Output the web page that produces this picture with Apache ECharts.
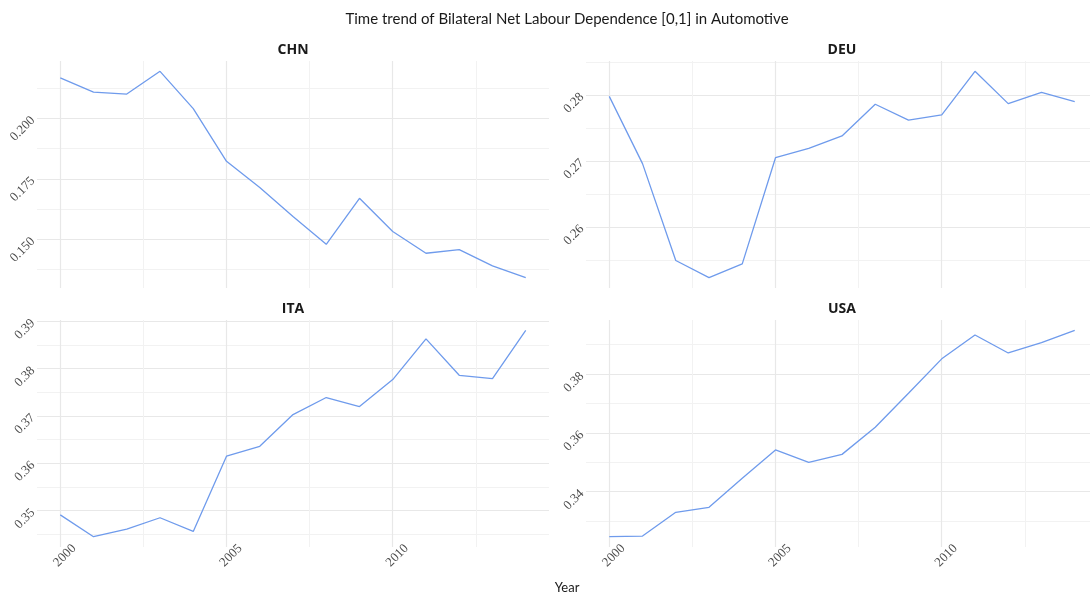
<html>
<head>
  <meta charset="utf-8">
  <title>Bilateral Net Labour Dependence</title>
  <script src="https://cdn.jsdelivr.net/npm/echarts@6/dist/echarts.min.js"></script>
  <style>
    html, body { margin: 0; width: 100%; height: 100%; background: #fff; overflow: hidden; }
    /* a bit wider than the window: the right panels run past the edge in the reference */
    #chart { width: 1100px; height: 596px; }
  </style>
</head>
<body>
  <div id="chart"></div>
  <script>
    // data
    var years = [2000, 2001, 2002, 2003, 2004, 2005, 2006, 2007, 2008, 2009, 2010, 2011, 2012, 2013, 2014];
    var chn = [0.2168, 0.2109, 0.2101, 0.2195, 0.2041, 0.1823, 0.1715, 0.1595, 0.1480, 0.1670, 0.1533, 0.1443, 0.1458, 0.1391, 0.1342];
    var deu = [0.2798, 0.2696, 0.2549, 0.2523, 0.2544, 0.2705, 0.2719, 0.2738, 0.2786, 0.2762, 0.2770, 0.2836, 0.2787, 0.2804, 0.2790];
    var ita = [0.3491, 0.3445, 0.3461, 0.3485, 0.3456, 0.3615, 0.3636, 0.3703, 0.3739, 0.3720, 0.3777, 0.3863, 0.3786, 0.3779, 0.3881];
    var usa = [0.3247, 0.3249, 0.3330, 0.3347, 0.3446, 0.3542, 0.3500, 0.3527, 0.3619, 0.3735, 0.3852, 0.3933, 0.3872, 0.3907, 0.3949];

    // tick labels / grid breaks
    var xTicks = [2000, 2005, 2010];
    var xMinor = [2002.5, 2007.5, 2012.5];
    var chnTicks = [0.150, 0.175, 0.200];
    var chnMinor = [0.1375, 0.1625, 0.1875, 0.2125];
    var deuTicks = [0.26, 0.27, 0.28];
    var deuMinor = [0.255, 0.265, 0.275, 0.285];
    var itaTicks = [0.35, 0.36, 0.37, 0.38, 0.39];
    var itaMinor = [0.345, 0.355, 0.365, 0.375, 0.385];
    var usaTicks = [0.34, 0.36, 0.38];
    var usaMinor = [0.33, 0.35, 0.37, 0.39];

    var chart = echarts.init(document.getElementById('chart'));

    var panels = [
      { name: 'CHN', vals: chn, ticks: chnTicks, minor: chnMinor, dec: 3, left: 37, top: 61, showX: false },
      { name: 'DEU', vals: deu, ticks: deuTicks, minor: deuMinor, dec: 2, left: 586, top: 61, showX: false },
      { name: 'ITA', vals: ita, ticks: itaTicks, minor: itaMinor, dec: 2, left: 37, top: 320, showX: true },
      { name: 'USA', vals: usa, ticks: usaTicks, minor: usaMinor, dec: 2, left: 586, top: 320, showX: true }
    ];
    var panelW = 512, panelH = 227;

    // ggplot style 5% expansion
    function expand(arr) {
      var lo = Math.min.apply(null, arr), hi = Math.max.apply(null, arr);
      var pad = (hi - lo) * 0.05;
      return [lo - pad, hi + pad];
    }

    var majorLine = { color: '#e8e8e8', width: 1.2 };
    var minorLine = { color: '#f2f2f2', width: 1 };
    var labelFont = { color: '#4d4d4d', fontSize: 13, fontFamily: 'Liberation Serif' };
    var xr = expand(years);

    var grids = [], xAxes = [], yAxes = [], series = [], graphics = [];

    panels.forEach(function (p, i) {
      var yr = expand(p.vals);
      grids.push({ left: p.left, top: p.top, width: panelW, height: panelH });

      // minor axes first so majors draw on top
      xAxes.push({
        type: 'value', gridIndex: i, position: 'bottom', min: xr[0], max: xr[1],
        axisLine: { show: false }, axisTick: { show: false, customValues: xMinor },
        axisLabel: { show: false }, splitLine: { show: true, lineStyle: minorLine }
      });
      xAxes.push({
        type: 'value', gridIndex: i, position: 'bottom', min: xr[0], max: xr[1],
        axisLine: { show: false }, axisTick: { show: false, customValues: xTicks },
        axisLabel: Object.assign({
          show: p.showX, customValues: xTicks, rotate: 45, margin: 4,
          align: 'center', verticalAlign: 'top',
          formatter: function (v) { return String(v); }
        }, labelFont),
        splitLine: { show: true, lineStyle: majorLine }
      });
      yAxes.push({
        type: 'value', gridIndex: i, position: 'left', min: yr[0], max: yr[1],
        axisLine: { show: false }, axisTick: { show: false, customValues: p.minor },
        axisLabel: { show: false }, splitLine: { show: true, lineStyle: minorLine }
      });
      yAxes.push({
        type: 'value', gridIndex: i, position: 'left', min: yr[0], max: yr[1],
        axisLine: { show: false }, axisTick: { show: false, customValues: p.ticks },
        axisLabel: Object.assign({
          customValues: p.ticks, rotate: 45, margin: 4,
          formatter: function (v) { return v.toFixed(p.dec); }
        }, labelFont),
        splitLine: { show: true, lineStyle: majorLine }
      });

      series.push({
        type: 'line', name: p.name,
        xAxisIndex: 2 * i + 1, yAxisIndex: 2 * i + 1,
        data: years.map(function (y, k) { return [y, p.vals[k]]; }),
        showSymbol: false, symbol: 'none',
        lineStyle: { color: '#6f9bec', width: 1.3 },
        z: 5
      });

      graphics.push({
        type: 'text', x: p.left + panelW / 2, y: p.top - 11,
        style: {
          text: p.name, fill: '#1a1a1a', font: 'bold 14px "Open Sans", sans-serif',
          align: 'center', verticalAlign: 'middle', textAlign: 'center', textVerticalAlign: 'middle'
        }
      });
    });

    graphics.push({
      type: 'text', x: 567, y: 19,
      style: {
        text: 'Time trend of Bilateral Net Labour Dependence [0,1] in Automotive',
        fill: '#1a1a1a', font: '15px Lato, sans-serif',
        align: 'center', verticalAlign: 'middle', textAlign: 'center', textVerticalAlign: 'middle'
      }
    });
    graphics.push({
      type: 'text', x: 567, y: 588,
      style: {
        text: 'Year', fill: '#1a1a1a', font: '13px Lato, sans-serif',
        align: 'center', verticalAlign: 'middle', textAlign: 'center', textVerticalAlign: 'middle'
      }
    });

    chart.setOption({
      animation: false,
      backgroundColor: '#ffffff',
      grid: grids,
      xAxis: xAxes,
      yAxis: yAxes,
      series: series,
      graphic: graphics
    });
  </script>
</body>
</html>
